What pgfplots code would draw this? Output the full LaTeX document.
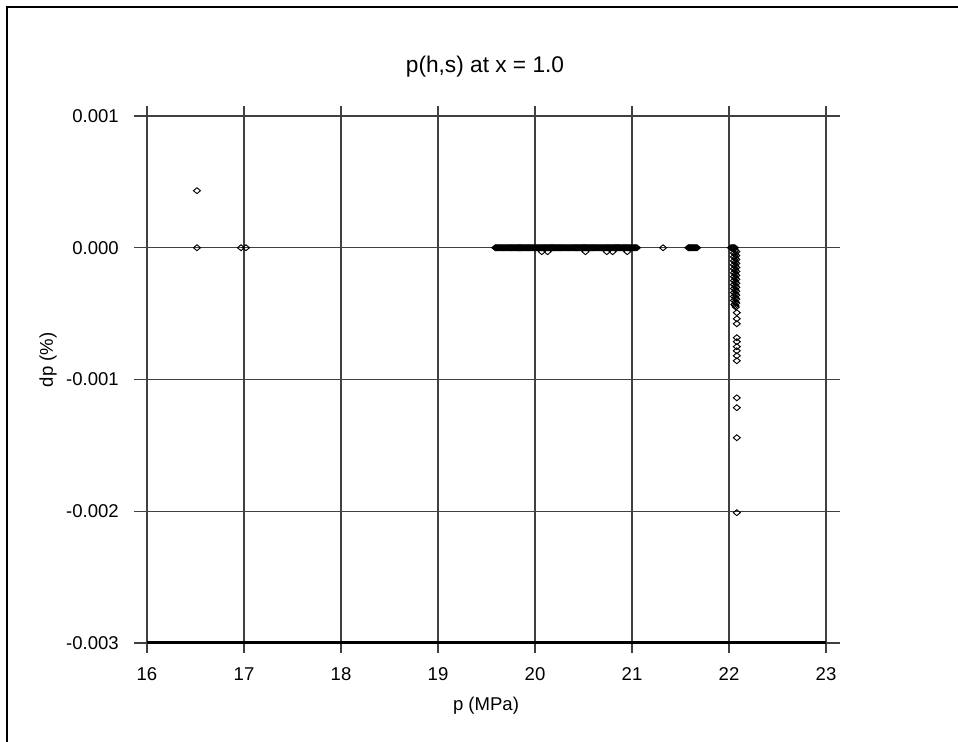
\documentclass[border=0pt]{standalone}
\usepackage{pgfplots}
\pgfplotsset{compat=1.18}
\usepackage{fontspec}
\setmainfont{Liberation Sans}
\begin{document}
\begin{tikzpicture}
\useasboundingbox (-100.5pt,-66.75pt) rectangle (618pt,489.75pt);
\draw[black, line width=1.1pt] (-95.25pt,-70pt) -- (-95.25pt,484.5pt) -- (625pt,484.5pt);
\begin{axis}[
  at={(0,0)}, anchor=south west,
  scale only axis, width=529.5pt, height=410.25pt,
  xmin=15.866, xmax=23.144,
  ymin=-0.0030759, ymax=0.0010759,
  axis line style={draw=none},
  xtick={16,17,18,19,20,21,22,23},
  xticklabels={16,17,18,19,20,21,22,23},
  ytick={-0.003,-0.002,-0.001,0,0.001},
  yticklabels={-0.003,-0.002,-0.001,0.000,0.001},
  scaled y ticks=false, scaled x ticks=false,
  major tick length=0pt,
  xmajorgrids, ymajorgrids,
  major grid style={draw={rgb,1:red,0.25;green,0.25;blue,0.25}, line width=0.9pt},
  xticklabel style={anchor=north, inner sep=0pt, yshift=-10.5pt, font=\fontsize{13.9}{16}\selectfont},
  yticklabel style={anchor=east, inner sep=0pt, xshift=-11.25pt, font=\fontsize{13.9}{16}\selectfont},
  clip=false,
  pt/.style={only marks, mark=diamond, mark size=2.2pt, mark options={draw=black, fill=none, line width=0.7pt, xscale=1.6}},
]
\addplot[black, line width=2.25pt, mark=none] coordinates {(16,-0.003) (23,-0.003)};
% isolated points
\addplot[pt] coordinates {(16.515,0.000433) (16.515,0) (16.969,0) (17.02,0) (21.32,0)};
% dense band 19.59 - 21.05
\addplot[pt] coordinates {
(19.59,0)(19.60,0)(19.61,0)(19.62,0)(19.63,0)(19.64,0)(19.65,0)(19.66,0)(19.67,0)(19.68,0)(19.69,0)
(19.70,0)(19.71,0)(19.72,0)(19.73,0)(19.74,0)(19.75,0)(19.76,0)(19.77,0)(19.78,0)(19.79,0)
(19.80,0)(19.81,0)(19.82,0)(19.83,0)(19.84,0)(19.85,0)(19.86,0)(19.87,0)(19.88,0)(19.89,0)
(19.90,0)(19.91,0)(19.92,0)(19.93,0)(19.94,0)(19.95,0)(19.96,0)(19.97,0)(19.98,0)(19.99,0)
(20.00,0)(20.01,0)(20.02,0)(20.03,0)(20.04,0)(20.05,0)(20.06,0)(20.07,0)(20.08,0)(20.09,0)
(20.10,0)(20.11,0)(20.12,0)(20.13,0)(20.14,0)(20.15,0)(20.16,0)(20.17,0)(20.18,0)(20.19,0)
(20.20,0)(20.21,0)(20.22,0)(20.23,0)(20.24,0)(20.25,0)(20.26,0)(20.27,0)(20.28,0)(20.29,0)
(20.30,0)(20.31,0)(20.32,0)(20.33,0)(20.34,0)(20.35,0)(20.36,0)(20.37,0)(20.38,0)(20.39,0)
(20.40,0)(20.41,0)(20.42,0)(20.43,0)(20.44,0)(20.45,0)(20.46,0)(20.47,0)(20.48,0)(20.49,0)
(20.50,0)(20.51,0)(20.52,0)(20.53,0)(20.54,0)(20.55,0)(20.56,0)(20.57,0)(20.58,0)(20.59,0)
(20.60,0)(20.61,0)(20.62,0)(20.63,0)(20.64,0)(20.65,0)(20.66,0)(20.67,0)(20.68,0)(20.69,0)
(20.70,0)(20.71,0)(20.72,0)(20.73,0)(20.74,0)(20.75,0)(20.76,0)(20.77,0)(20.78,0)(20.79,0)
(20.80,0)(20.81,0)(20.82,0)(20.83,0)(20.84,0)(20.85,0)(20.86,0)(20.87,0)(20.88,0)(20.89,0)
(20.90,0)(20.91,0)(20.92,0)(20.93,0)(20.94,0)(20.95,0)(20.96,0)(20.97,0)(20.98,0)(20.99,0)
(21.00,0)(21.01,0)(21.02,0)(21.03,0)(21.04,0)(21.05,0)
(20.07,-0.00003)(20.13,-0.00003)(20.52,-0.00003)(20.74,-0.00003)(20.80,-0.00003)(20.95,-0.00003)
};
% small band near 21.6
\addplot[pt] coordinates {(21.58,0)(21.59,0)(21.60,0)(21.61,0)(21.62,0)(21.63,0)(21.64,0)(21.65,0)(21.66,0)(21.67,0)};
% vertical cluster near 22.05
\addplot[pt] coordinates {
(22.02,0)(22.03,0)(22.04,0)(22.05,0)(22.06,0)
(22.05,-0.00001)(22.065,-0.00002)(22.075,-0.00003)(22.05,-0.00004)(22.065,-0.00005)
(22.075,-0.00006)(22.05,-0.00007)(22.065,-0.00008)(22.075,-0.00009)(22.05,-0.00010)
(22.065,-0.00011)(22.075,-0.00012)(22.05,-0.00013)(22.065,-0.00014)(22.075,-0.00015)
(22.05,-0.00016)(22.065,-0.00017)(22.075,-0.00018)(22.05,-0.00019)(22.065,-0.00020)
(22.075,-0.00021)(22.05,-0.00022)(22.065,-0.00023)(22.075,-0.00024)(22.05,-0.00025)
(22.065,-0.00026)(22.075,-0.00027)(22.05,-0.00028)(22.065,-0.00029)(22.075,-0.00030)
(22.05,-0.00031)(22.065,-0.00032)(22.075,-0.00033)(22.05,-0.00034)(22.065,-0.00035)
(22.075,-0.00036)(22.05,-0.00037)(22.065,-0.00038)(22.075,-0.00039)(22.05,-0.00040)
(22.065,-0.00041)(22.075,-0.00042)(22.055,-0.00043)(22.065,-0.00044)(22.07,-0.00045)
(22.08,-0.000493)(22.08,-0.000539)(22.08,-0.000577)(22.08,-0.000683)(22.08,-0.000713)
(22.08,-0.000751)(22.08,-0.000782)(22.08,-0.000820)(22.08,-0.000858)(22.08,-0.001139)
(22.08,-0.001214)(22.08,-0.001442)(22.08,-0.002011)
};
\end{axis}
\node[font=\fontsize{17}{20}\selectfont] at (263.25pt,439.5pt) {p(h,s) at x = 1.0};
\node[font=\fontsize{13.9}{16}\selectfont] at (264pt,-39.75pt) {p (MPa)};
\node[font=\fontsize{13.9}{16}\selectfont, rotate=90] at (-64.5pt,219.75pt) {dp (\%)};
\end{tikzpicture}
\end{document}
